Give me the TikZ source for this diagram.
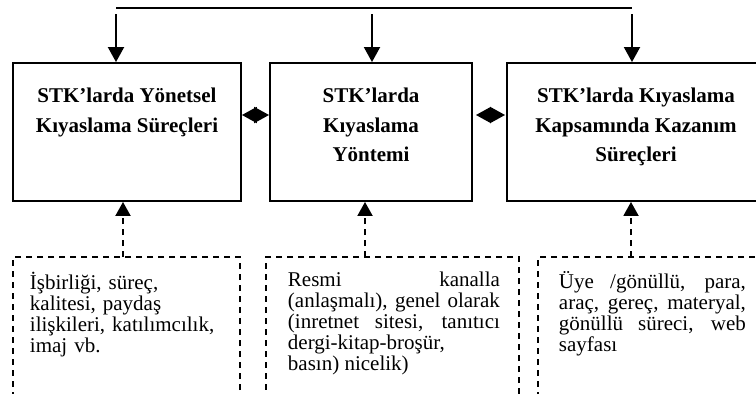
\documentclass[tikz,border=0pt]{standalone}
\usepackage{fontspec}
\setmainfont{Liberation Serif}
\usetikzlibrary{arrows.meta}
\hyphenpenalty=10000
\exhyphenpenalty=10000

\begin{document}
\begin{tikzpicture}[x=1pt, y=-1pt, line width=1.9pt,
	kbox/.style = {draw, minimum width=#1, minimum height=138pt, inner sep=0pt},
	notebox/.style = {draw, dash pattern=on 6pt off 5pt, minimum width=#1, minimum height=170pt, inner sep=0pt},
	kbtext/.style = {font=\fontsize{21}{29.5}\selectfont\bfseries, align=center, inner sep=0pt, anchor=north},
	notetext/.style = {font=\fontsize{21}{21}\selectfont, text width=#1, inner sep=0pt, anchor=north west},
	arrowdown/.style = {-{Triangle[length=15pt, width=16pt]}},
	arrowup/.style = {dash pattern=on 6pt off 5pt, -{Triangle[length=14pt, width=15pt]}},
	twoway/.style = {{Triangle[length=15pt, width=16pt]}-{Triangle[length=15pt, width=16pt]}}]
	\useasboundingbox (0,0) rectangle (756,394);

	% boxes
	\node (L) at (127, 132)	[kbox=228pt]	{};
	\node (M) at (371, 132)	[kbox=202pt]	{};
	\node (R) at (636, 132)	[kbox=258pt]	{};
	\node (Lt) at (127, 87)	[kbtext]	{STK’larda Yönetsel\\Kıyaslama Süreçleri};
	\node (Mt) at (371, 87)	[kbtext]	{STK’larda\\Kıyaslama\\Yöntemi};
	\node (Rt) at (636, 87)	[kbtext]	{STK’larda Kıyaslama\\Kapsamında Kazanım\\Süreçleri};

	% notes
	\node (DL) at (126.5, 342)	[notebox=227pt]	{};
	\node (DM) at (392.5, 342)	[notebox=253pt]	{};
	\node (DR) at (651.5, 342)	[notebox=227pt]	{};
	\node (DLt) at (29, 271)	[notetext=205pt, align=left]	{\strut İşbirliği, süreç,\\ kalitesi, paydaş\\ ilişkileri, katılımcılık,\\ imaj vb.};
	\node (DMt) at (287, 271)	[notetext=212pt, align=justify]	{\strut Resmi kanalla\linebreak (anlaşmalı), genel olarak\linebreak (inretnet sitesi, tanıtıcı\linebreak dergi-kitap-broşür,\linebreak basın) nicelik)};
	\node (DRt) at (558, 271)	[notetext=187pt, align=justify]	{\strut Üye /gönüllü, para,\linebreak araç, gereç, materyal,\linebreak gönüllü süreci, web\linebreak sayfası};

	% top line
	\coordinate (tl) at (116, 8);
	\coordinate (tr) at (632, 8);
	\coordinate (a1) at (116, 14);
	\coordinate (a2) at (372, 14);
	\coordinate (a3) at (632, 14);
	\draw (tl) -- (tr);
	\draw[arrowdown] (a1) -- (a1 |- L.north);
	\draw[arrowdown] (a2) -- (a2 |- M.north);
	\draw[arrowdown] (a3) -- (a3 |- R.north);

	% between boxes
	\draw[twoway] ([yshift=17pt]L.east) -- ([yshift=17pt]M.west);
	\draw[twoway, shorten <=3pt, shorten >=1pt] ([yshift=17pt]M.east) -- ([yshift=17pt]R.west);

	% from notes
	\coordinate (b1) at (123, 257);
	\coordinate (b2) at (365, 257);
	\coordinate (b3) at (631, 257);
	\draw[arrowup] (b1) -- (b1 |- L.south);
	\draw[arrowup] (b2) -- (b2 |- M.south);
	\draw[arrowup] (b3) -- (b3 |- R.south);
\end{tikzpicture}
\end{document}
